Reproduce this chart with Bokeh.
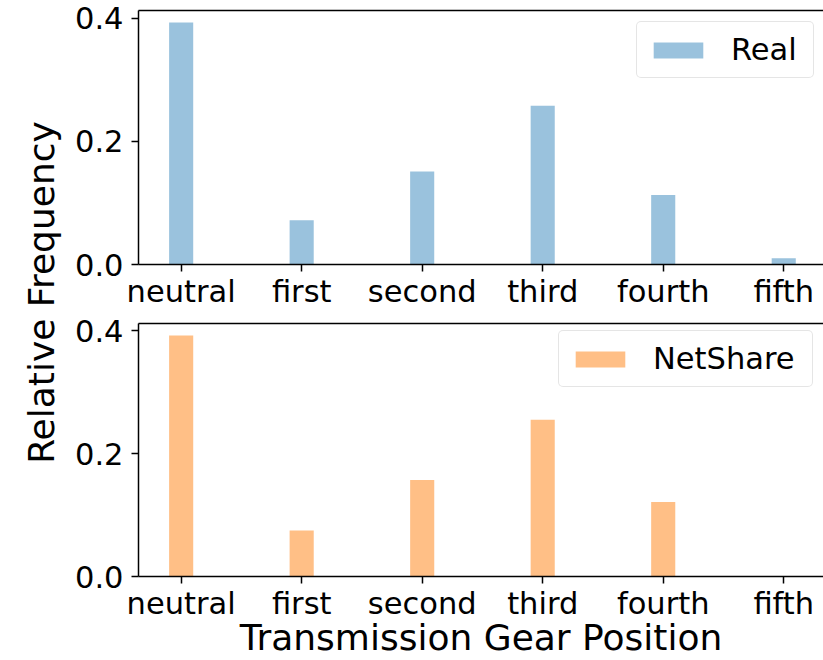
from bokeh.plotting import figure
from bokeh.models import (Range1d, FixedTicker, LinearAxis, Legend, LegendItem,
                          PrintfTickFormatter)
from bokeh.layouts import row, column
from bokeh.embed import file_html
from bokeh.resources import INLINE

categories = ["neutral", "first", "second", "third", "fourth", "fifth"]
real = [0.393, 0.072, 0.151, 0.258, 0.113, 0.010]
netshare = [0.392, 0.075, 0.157, 0.255, 0.121, 0.0]
y_ticks = [0.0, 0.2, 0.4]
series_labels = ["Real", "NetShare"]
x_title = "Transmission Gear Position"
y_title = "Relative Frequency"

FONT = "DejaVu Sans"
TICK_FS = "30.5px"
LABEL_FS = "36px"
LAB_W = 66
MAIN_W = 823 - LAB_W


def make_panel(values, color, alpha, label, height, b_top, b_bottom, ytop,
               legend_loc, label_width, xlabel=None):
    p = figure(width=MAIN_W, height=height, output_backend="svg",
               toolbar_location=None,
               x_range=Range1d(-0.354, 5.330), y_range=Range1d(0, ytop),
               min_border_left=138 - LAB_W, min_border_right=0,
               min_border_top=b_top, min_border_bottom=b_bottom)
    p.outline_line_color = None
    p.xgrid.visible = False
    p.ygrid.visible = False
    xs = list(range(len(categories)))
    r = p.vbar(x=xs, top=values, width=0.2, bottom=0, fill_color=color,
               fill_alpha=alpha, line_color=None)

    for ax in (p.xaxis[0], p.yaxis[0]):
        ax.axis_line_width = 1.5
        ax.axis_line_color = "black"
        ax.major_tick_line_width = 1.5
        ax.major_tick_line_color = "black"
        ax.major_tick_out = 7
        ax.major_tick_in = 0
        ax.minor_tick_line_color = None
        ax.major_label_text_font = FONT
        ax.major_label_text_font_size = TICK_FS
        ax.major_label_text_color = "black"
    p.yaxis.ticker = FixedTicker(ticks=y_ticks)
    p.yaxis.formatter = PrintfTickFormatter(format="%.1f")
    p.yaxis.major_label_standoff = 8
    p.xaxis.ticker = FixedTicker(ticks=xs)
    p.xaxis.major_label_overrides = {i: c for i, c in zip(xs, categories)}
    p.xaxis.major_label_standoff = 2
    if xlabel:
        p.xaxis.axis_label = xlabel
        p.xaxis.axis_label_text_font = FONT
        p.xaxis.axis_label_text_font_size = LABEL_FS
        p.xaxis.axis_label_text_font_style = "normal"
        p.xaxis.axis_label_text_color = "black"
        p.xaxis.axis_label_standoff = -7

    top_ax = LinearAxis(ticker=FixedTicker(ticks=[]), major_label_text_font_size="0px",
                        major_tick_out=0, major_tick_in=0, minor_tick_out=0,
                        minor_tick_in=0, major_label_standoff=0, axis_line_width=1.5,
                        axis_line_color="black")
    p.add_layout(top_ax, "above")

    leg = Legend(items=[LegendItem(label=label, renderers=[r])], location=legend_loc,
                 border_line_color="#cccccc", border_line_width=1.5,
                 background_fill_color="white", background_fill_alpha=0.8,
                 padding=10, spacing=0, margin=0, glyph_width=62, glyph_height=20,
                 label_standoff=22, label_width=label_width,
                 label_text_font=FONT, label_text_font_size=TICK_FS,
                 label_text_color="black")
    if "border_radius" in Legend.properties():
        leg.border_radius = 5
    p.add_layout(leg)
    return p


p1 = make_panel(real, "#1f77b4", 0.45, series_labels[0], 311, 10, 45, 0.4127,
                (498, 185.75), 72)
p2 = make_panel(netshare, "#ff7f0e", 0.5, series_labels[1], 349, 12, 80, 0.4116,
                (420, 188.75), 149, xlabel=x_title)

# separate panel holding the shared y-axis title (centred between the two plots)
lab = figure(width=LAB_W, height=660, output_backend="svg", toolbar_location=None,
             x_range=Range1d(0, 1), y_range=Range1d(0, 1), x_axis_type=None,
             min_border_left=61, min_border_right=0, min_border_top=0,
             min_border_bottom=660 - 584)
lab.outline_line_color = None
lab.xgrid.visible = False
lab.ygrid.visible = False
ya = lab.yaxis[0]
ya.ticker = FixedTicker(ticks=[])
ya.axis_line_color = None
ya.major_tick_line_color = None
ya.minor_tick_line_color = None
ya.major_tick_out = 0
ya.major_tick_in = 0
ya.minor_tick_out = 0
ya.major_label_standoff = 0
ya.major_label_text_font_size = "0px"
ya.axis_label = y_title
ya.axis_label_standoff = 0
ya.axis_label_text_font = FONT
ya.axis_label_text_font_size = LABEL_FS
ya.axis_label_text_font_style = "normal"
ya.axis_label_text_color = "black"

layout = row(lab, column(p1, p2))
open("out.html", "w").write(file_html(layout, INLINE))
